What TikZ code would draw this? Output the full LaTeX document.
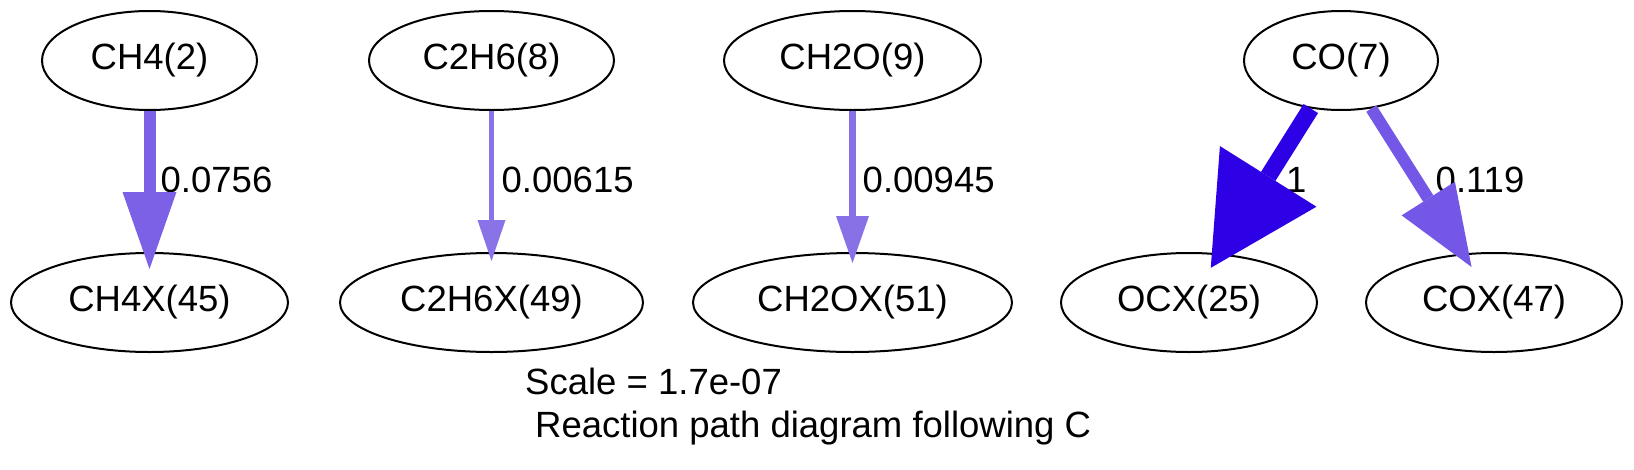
\documentclass[tikz,border=0pt]{standalone}
\usepackage{fontspec}
\setmainfont{Liberation Sans}
\usetikzlibrary{arrows.meta,shapes.geometric}
\definecolor{fCHfour}{HTML}{7C61E6}
\definecolor{fCtwo}{HTML}{8A73E6}
\definecolor{fCHtwoO}{HTML}{8870E6}
\definecolor{fOCX}{HTML}{2E00E6}
\definecolor{fCOX}{HTML}{7457E6}
\begin{document}
\begin{tikzpicture}[x=1pt,y=-1pt,
  sp/.style={ellipse, draw=black, line width=2pt, inner sep=0pt, minimum height=99pt,
    font=\fontsize{36.5}{43}\selectfont},
  lbl/.style={anchor=base west, inner sep=0pt, font=\fontsize{36.5}{43}\selectfont},
  flux/.style={line cap=butt}]
\useasboundingbox (0,0) rectangle (1634,469);
% species, top row
\node[sp, minimum width=215pt] (ch4)   at (149.5,60.5) {CH4(2)};
\node[sp, minimum width=245pt] (c2h6)  at (491.5,60.5) {C2H6(8)};
\node[sp, minimum width=257pt] (ch2o)  at (852.5,60.5) {CH2O(9)};
\node[sp, minimum width=194pt] (co)    at (1341,60.5)  {CO(7)};
% species, bottom row
\node[sp, minimum width=277pt] (ch4x)  at (149.5,302.5) {CH4X(45)};
\node[sp, minimum width=303pt] (c2h6x) at (491.5,302.5) {C2H6X(49)};
\node[sp, minimum width=319pt] (ch2ox) at (852.5,302.5) {CH2OX(51)};
\node[sp, minimum width=256pt] (ocx)   at (1189,302.5)  {OCX(25)};
\node[sp, minimum width=256pt] (cox)   at (1494,302.5)  {COX(47)};
% edge labels
\node[lbl] (l1) at (160.5,192) {0.0756};
\node[lbl] (l2) at (501.5,192) {0.00615};
\node[lbl] (l3) at (862.5,192) {0.00945};
\node[lbl] (l4) at (1286,192)  {1};
\node[lbl] (l5) at (1435.5,192) {0.119};
% edges
\draw[flux, draw=fCHfour, line width=12pt,
  -{Triangle[length=77pt,width=54pt,line width=0pt]}, shorten >=-17pt] (ch4) -- (ch4x);
\draw[flux, draw=fCtwo, line width=5pt,
  -{Triangle[length=41pt,width=28pt,line width=0pt]}, shorten >=-9pt] (c2h6) -- (c2h6x);
\draw[flux, draw=fCHtwoO, line width=6.5pt,
  -{Triangle[length=47pt,width=33pt,line width=0pt]}, shorten >=-11pt] (ch2o) -- (ch2ox);
\draw[flux, draw=fOCX, line width=17pt,
  -{Triangle[length=108pt,width=114pt,line width=0pt]}, shorten >=-17pt] (co) -- (ocx);
\draw[flux, draw=fCOX, line width=12pt,
  -{Triangle[length=81pt,width=63pt,line width=0pt]}, shorten >=-16pt] (co) -- (cox);
% caption
\node[lbl] (cap1) at (525,394) {Scale = 1.7e-07};
\node[lbl] (cap2) at (535,437) {Reaction path diagram following C};
\end{tikzpicture}
\end{document}
